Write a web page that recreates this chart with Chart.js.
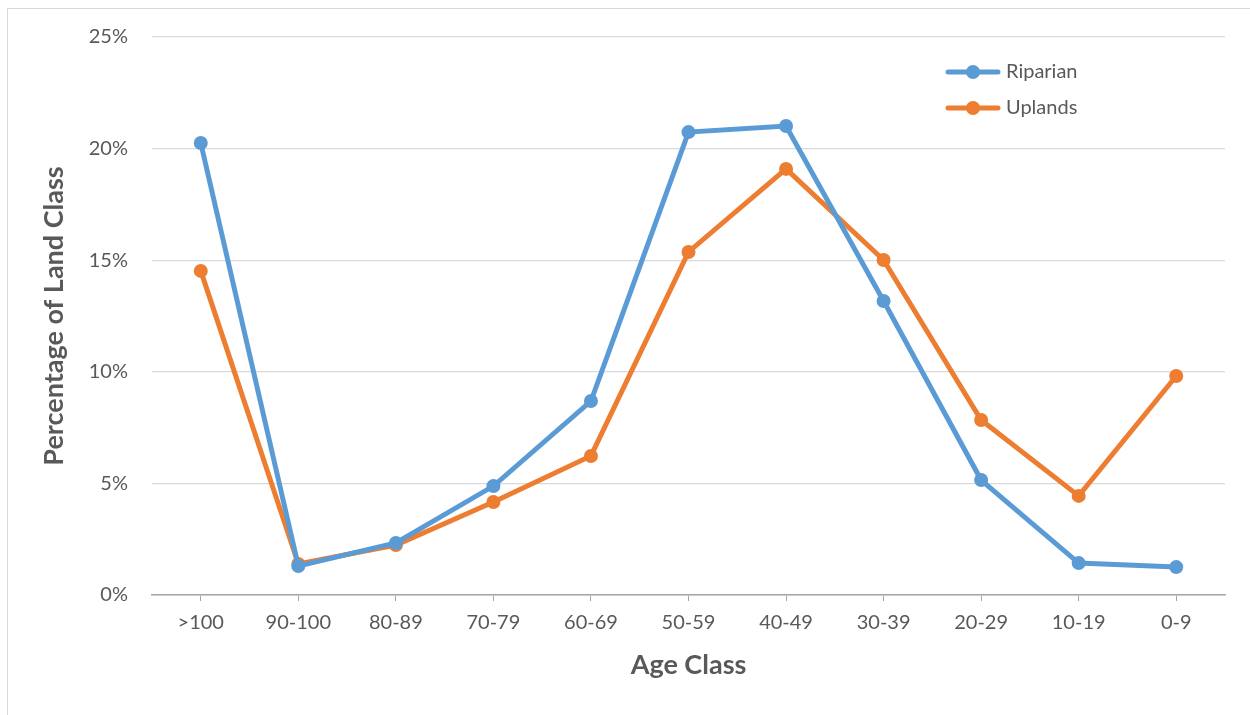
<!DOCTYPE html>
<html>
<head>
<meta charset="utf-8">
<script src="https://cdn.jsdelivr.net/npm/chart.js@4/dist/chart.umd.min.js"></script>
<style>
  html, body { margin: 0; padding: 0; background: #fff; }
  #wrap { position: relative; width: 1250px; height: 715px; }
  #frame { position: absolute; left: 7px; top: 8px; width: 1260px; height: 720px; border: 1px solid #d9d9d9; }
  canvas { position: absolute; left: 0; top: 0; }
</style>
</head>
<body>
<div id="wrap">
  <div id="frame"></div>
  <canvas id="ageChart" width="1250" height="715"></canvas>
</div>
<script>
// age classes, oldest first (as in the original)
const ageClasses = ['>100', '90-100', '80-89', '70-79', '60-69', '50-59', '40-49', '30-39', '20-29', '10-19', '0-9'];

// percent of land class
const riparian = [20.25, 1.3, 2.33, 4.88, 8.69, 20.74, 21.01, 13.17, 5.15, 1.43, 1.25];
const uplands = [14.52, 1.39, 2.24, 4.17, 6.23, 15.37, 19.09, 15.01, 7.84, 4.44, 9.81];

const yTicks = [0, 5, 10, 15, 20, 25];

const BLUE = '#5b9bd5';
const ORANGE = '#ed7d31';
const TEXT = '#595959';
const FONT = 'Lato, "Open Sans", sans-serif';

// legend drawn inside the plot, top right, like the Excel one
const insideLegend = {
  id: 'insideLegend',
  afterDraw(chart) {
    const ctx = chart.ctx;
    const items = chart.data.datasets;
    ctx.save();
    items.forEach((ds, i) => {
      const y = 72 + i * 36;
      ctx.strokeStyle = ds.borderColor;
      ctx.lineWidth = 5;
      ctx.lineCap = 'round';
      ctx.beginPath();
      ctx.moveTo(948, y);
      ctx.lineTo(998, y);
      ctx.stroke();
      ctx.fillStyle = ds.borderColor;
      ctx.beginPath();
      ctx.arc(973, y, 7, 0, Math.PI * 2);
      ctx.fill();
      ctx.fillStyle = TEXT;
      ctx.font = '20px ' + FONT;
      ctx.textAlign = 'left';
      ctx.textBaseline = 'middle';
      ctx.fillText(ds.label, 1006, y);
    });
    ctx.restore();
  }
};

function makeSeries(label, data, color) {
  return {
    label: label,
    data: data,
    borderColor: color,
    backgroundColor: color,
    borderWidth: 5,
    pointRadius: 7,
    pointHoverRadius: 7,
    pointBorderWidth: 0,
    tension: 0
  };
}

new Chart(document.getElementById('ageChart'), {
  type: 'line',
  data: {
    labels: ageClasses,
    datasets: [
      makeSeries('Riparian', riparian, BLUE),
      makeSeries('Uplands', uplands, ORANGE)
    ]
  },
  options: {
    responsive: false,
    animation: false,
    layout: { padding: { top: 37, right: 25, bottom: 30, left: 34 } },
    plugins: {
      legend: { display: false },
      tooltip: { enabled: false }
    },
    scales: {
      x: {
        offset: true,
        grid: { drawOnChartArea: false, drawTicks: true, tickLength: 6, color: '#a6a6a6', lineWidth: 1 },
        border: { color: '#a6a6a6', width: 1.5 },
        ticks: { color: TEXT, font: { family: FONT, size: 20 }, padding: 10, maxRotation: 0 },
        title: {
          display: true, text: 'Age Class', color: TEXT,
          font: { family: FONT, size: 27, weight: 'bold' }, padding: { top: 6 }
        },
        afterFit(scale) { scale.height = 715 - 595 - 30; }
      },
      y: {
        min: 0,
        max: 25,
        afterBuildTicks(scale) { scale.ticks = yTicks.map(v => ({ value: v })); },
        grid: { color: '#d9d9d9', lineWidth: 1.3, drawTicks: false },
        border: { display: false },
        ticks: {
          color: TEXT, font: { family: FONT, size: 20 }, padding: 24,
          callback: v => v + '%'
        },
        title: {
          display: true, text: 'Percentage of Land Class', color: TEXT,
          font: { family: FONT, size: 27, weight: 'bold' }, padding: { bottom: 12 }
        },
        afterFit(scale) { scale.width = 152 - 34; }
      }
    }
  },
  plugins: [insideLegend]
});
</script>
</body>
</html>
